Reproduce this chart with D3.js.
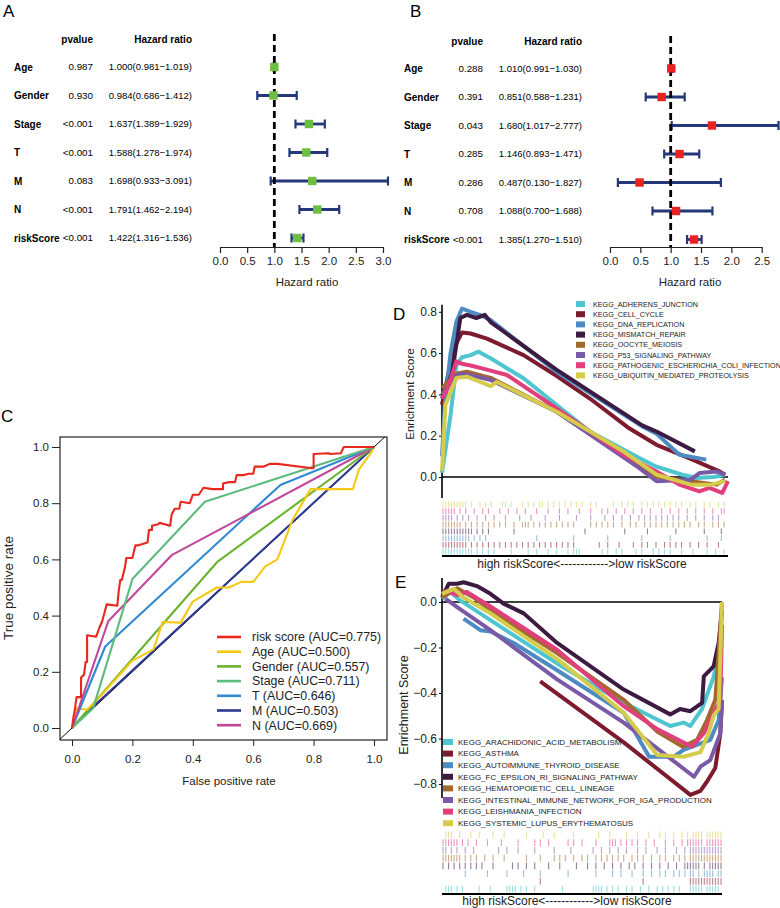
<!DOCTYPE html>
<html><head><meta charset="utf-8">
<script src="https://cdn.jsdelivr.net/npm/d3@7"></script>
<style>body{margin:0;background:#fff}svg{display:block;font-family:"Liberation Sans",Arial,sans-serif}</style>
</head><body><svg id="c" width="780" height="908"></svg>
<script>
// ---------------- DATA ----------------
const forestVars = ["Age","Gender","Stage","T","M","N","riskScore"];
const aP   = ["0.987","0.930","<0.001","<0.001","0.083","<0.001","<0.001"];
const aHR  = [1.000,0.984,1.637,1.588,1.698,1.791,1.422];
const aLo  = [0.981,0.686,1.389,1.278,0.933,1.462,1.316];
const aHi  = [1.019,1.412,1.929,1.974,3.091,2.194,1.536];
const bP   = ["0.288","0.391","0.043","0.285","0.286","0.708","<0.001"];
const bHR  = [1.010,0.851,1.680,1.146,0.487,1.088,1.385];
const bLo  = [0.991,0.588,1.017,0.893,0.130,0.700,1.270];
const bHi  = [1.030,1.231,2.777,1.471,1.827,1.688,1.510];
const aTicks = [0,0.5,1,1.5,2,2.5,3];
const bTicks = [0,0.5,1,1.5,2,2.5];

const rocNames = ["risk score","Age","Gender","Stage","T","M","N"];
const rocAUC   = ["0.775","0.500","0.557","0.711","0.646","0.503","0.669"];
const rocColors = ["#e8281e","#f5c816","#6ab42d","#5dbb7e","#2f8ad3","#2b3990","#c0479a"];
const rocRisk = [[0,0],[0.005,0.04],[0.01,0.07],[0.015,0.11],[0.03,0.11],[0.03,0.18],[0.04,0.19],[0.045,0.235],[0.05,0.235],[0.05,0.33],[0.08,0.325],[0.09,0.355],[0.1,0.38],[0.11,0.42],[0.115,0.44],[0.15,0.435],[0.155,0.49],[0.16,0.527],[0.165,0.527],[0.175,0.57],[0.18,0.605],[0.2,0.605],[0.21,0.65],[0.22,0.65],[0.25,0.66],[0.255,0.705],[0.265,0.705],[0.265,0.72],[0.285,0.725],[0.29,0.73],[0.325,0.72],[0.33,0.76],[0.34,0.78],[0.355,0.78],[0.36,0.805],[0.39,0.8],[0.4,0.83],[0.42,0.83],[0.435,0.855],[0.465,0.85],[0.5,0.85],[0.5,0.87],[0.52,0.875],[0.54,0.875],[0.545,0.9],[0.57,0.9],[0.585,0.905],[0.6,0.905],[0.605,0.93],[0.635,0.93],[0.645,0.935],[0.655,0.94],[0.68,0.94],[0.79,0.925],[0.8,0.925],[0.8,0.975],[0.85,0.978],[0.855,0.975],[0.89,0.978],[0.9,1],[0.94,1],[1,1]];
const rocAge = [[0,0],[0.015,0.07],[0.05,0.065],[0.1,0.12],[0.2,0.24],[0.27,0.28],[0.3,0.377],[0.36,0.375],[0.4,0.45],[0.44,0.475],[0.48,0.5],[0.52,0.5],[0.56,0.52],[0.6,0.52],[0.64,0.575],[0.68,0.6],[0.73,0.74],[0.79,0.85],[0.93,0.85],[0.95,0.92],[0.97,0.95],[0.99,0.98],[1,1]];
const rocGender = [[0,0],[0.48,0.59],[1,1]];
const rocStage = [[0,0],[0.07,0.07],[0.2,0.53],[0.44,0.805],[1,1]];
const rocT = [[0,0],[0.11,0.29],[0.69,0.865],[1,1]];
const rocM = [[0,0],[0.06,0.066],[1,1]];
const rocN = [[0,0],[0.12,0.38],[0.33,0.615],[1,1]];
const rocTicks = [0,0.2,0.4,0.6,0.8,1.0];

const dNames = ["KEGG_ADHERENS_JUNCTION","KEGG_CELL_CYCLE","KEGG_DNA_REPLICATION","KEGG_MISMATCH_REPAIR","KEGG_OOCYTE_MEIOSIS","KEGG_P53_SIGNALING_PATHWAY","KEGG_PATHOGENIC_ESCHERICHIA_COLI_INFECTION","KEGG_UBIQUITIN_MEDIATED_PROTEOLYSIS"];
const eNames = ["KEGG_ARACHIDONIC_ACID_METABOLISM","KEGG_ASTHMA","KEGG_AUTOIMMUNE_THYROID_DISEASE","KEGG_FC_EPSILON_RI_SIGNALING_PATHWAY","KEGG_HEMATOPOIETIC_CELL_LINEAGE","KEGG_INTESTINAL_IMMUNE_NETWORK_FOR_IGA_PRODUCTION","KEGG_LEISHMANIA_INFECTION","KEGG_SYSTEMIC_LUPUS_ERYTHEMATOSUS"];
const gseaColors = ["#4ec5cf","#7d1b2e","#4d8bc3","#3d1a42","#a3682e","#7a5aa6","#e03f7c","#d5cc4b"];
const dTicks = [0,0.2,0.4,0.6,0.8];
const eTicks = [0,-0.2,-0.4,-0.6,-0.8];

const dAdherens = [[0,0.02],[0.03,0.30],[0.05,0.54],[0.07,0.58],[0.1,0.59],[0.128,0.607],[0.17,0.575],[0.285,0.478],[0.4,0.35],[0.517,0.22],[0.69,0.092],[0.75,0.05],[0.84,0.011],[0.89,-0.005],[0.95,0.0],[0.99,0.011]];
const dCellCycle = [[0,0.35],[0.04,0.62],[0.07,0.70],[0.1,0.695],[0.157,0.67],[0.285,0.59],[0.4,0.49],[0.517,0.38],[0.65,0.24],[0.75,0.156],[0.866,0.09],[0.97,0.027],[0.99,0.011]];
const dDNA = [[0,0.1],[0.01,0.35],[0.03,0.6],[0.05,0.75],[0.07,0.816],[0.1,0.8],[0.134,0.784],[0.17,0.76],[0.4,0.51],[0.7,0.245],[0.75,0.21],[0.83,0.108],[0.924,0.084]];
const dMismatch = [[0,0.38],[0.035,0.5],[0.064,0.77],[0.087,0.785],[0.12,0.77],[0.15,0.785],[0.17,0.75],[0.4,0.52],[0.7,0.25],[0.75,0.22],[0.884,0.124]];
const dOocyte = [[0,0.43],[0.05,0.50],[0.087,0.51],[0.17,0.48],[0.4,0.317],[0.69,0.05],[0.75,0.0],[0.87,-0.02],[0.96,-0.037],[0.99,-0.013]];
const dP53 = [[0,0.4],[0.05,0.49],[0.07,0.50],[0.11,0.49],[0.17,0.47],[0.4,0.317],[0.69,0.043],[0.75,-0.02],[0.87,-0.013],[0.9,0.019],[0.96,0.027],[0.99,0.01]];
const dPathogenic = [[0,0.38],[0.02,0.43],[0.05,0.56],[0.065,0.55],[0.1,0.54],[0.157,0.52],[0.227,0.494],[0.4,0.333],[0.634,0.108],[0.75,0.027],[0.83,-0.037],[0.9,-0.07],[0.935,-0.053],[0.98,-0.077],[1,-0.02]];
const dUbiquitin = [[0,0.03],[0.012,0.35],[0.05,0.48],[0.087,0.486],[0.134,0.46],[0.17,0.44],[0.192,0.46],[0.4,0.317],[0.634,0.124],[0.75,0.011],[0.87,-0.037],[0.94,-0.037],[0.99,-0.02]];

const eArach = [[0,0.015],[0.03,0.044],[0.065,0.007],[0.173,-0.08],[0.411,-0.27],[0.649,-0.443],[0.815,-0.545],[0.863,-0.53],[0.887,-0.545],[0.929,-0.47],[0.946,-0.41],[0.97,-0.33],[0.994,-0.18],[1.0,-0.036]];
const eAsthma = [[0.351,-0.349],[0.649,-0.617],[0.887,-0.848],[0.923,-0.83],[0.946,-0.79],[0.976,-0.73],[0.994,-0.577],[1.0,-0.43]];
const eAuto = [[0.077,-0.073],[0.137,-0.124],[0.173,-0.13],[0.256,-0.18],[0.411,-0.30],[0.649,-0.487],[0.74,-0.68],[0.827,-0.68],[0.863,-0.65],[0.958,-0.606],[0.988,-0.52],[1.0,-0.33]];
const eFC = [[0,0.02],[0.024,0.08],[0.054,0.08],[0.077,0.087],[0.125,0.07],[0.173,0.036],[0.22,-0.007],[0.292,-0.05],[0.411,-0.18],[0.649,-0.385],[0.815,-0.494],[0.85,-0.47],[0.887,-0.48],[0.929,-0.443],[0.935,-0.327],[0.97,-0.283],[0.988,-0.18],[1.0,-0.036]];
const eHemato = [[0,0.02],[0.054,0.06],[0.113,0.02],[0.173,-0.036],[0.411,-0.225],[0.649,-0.43],[0.77,-0.57],[0.86,-0.636],[0.911,-0.606],[0.946,-0.52],[0.976,-0.43],[0.982,-0.33],[0.994,-0.11],[1.0,0]];
const eIntest = [[0.012,0.015],[0.054,-0.022],[0.173,-0.124],[0.411,-0.34],[0.649,-0.53],[0.9,-0.768],[0.923,-0.724],[0.958,-0.695],[0.994,-0.577],[1.0,-0.43]];
const eLeish = [[0,0.036],[0.018,0.05],[0.054,0.03],[0.089,0.044],[0.173,-0.02],[0.411,-0.21],[0.649,-0.458],[0.77,-0.56],[0.893,-0.636],[0.935,-0.577],[0.964,-0.504],[0.994,-0.43],[1.0,-0.1]];
const eSLE = [[0,0.036],[0.042,0.058],[0.077,0.02],[0.173,-0.05],[0.411,-0.25],[0.649,-0.487],[0.768,-0.672],[0.863,-0.68],[0.923,-0.66],[0.952,-0.577],[0.97,-0.5],[0.988,-0.47],[1.0,0]];

// rug hit positions (percent of ranked list), legend order
const dRug = [
 [0,1,2,3,4,5,6,7,8,9,10,12,14,16,18,24,30,33,37,40,44,46,47,48,56,58,61,63,68,70,74,76,78,80,84,88,93,96,99],
 [0,1,2,3,4,5,6,7,8,10,12,14,16,18,20,22,24,26,28,30,32,34,36,38,40,42,44,46,55,58,62,67,70,72,75,78,80,82,84,87,90,93,97],
 [0,1,2,3,4,5,6,7,8,9,11,13,15,33,46,58,70,80,93,98],
 [0,1,2,3,4,5,6,7,8,9,10,12,14,16,25,50,64,72,82,92,98],
 [0,1,2,3,4,5,6,8,10,12,14,16,18,20,22,25,28,29,30,32,34,36,38,40,42,44,46,52,54,56,58,60,63,66,68,71,73,75,77,79,81,83,85,87,90,92,95,97,99],
 [0,1,2,3,5,7,9,12,15,18,22,27,31,36,41,47,52,57,60,63,66,69,71,73,75,77,79,81,83,86,89,92,95,97],
 [0,1,2,3,4,6,8,11,14,16,20,23,26,29,33,37,41,44,48,52,56,58,61,64,67,70,73,77,80,83,86,89,92,95,98,99],
 [0,1,2,3,4,5,6,7,8,10,13,15,17,21,22,24,28,30,32,34,35,37,39,41,43,45,47,49,52,54,60,63,65,67,70,72,74,76,78,80,82,84,87,89,92,94,97,99]
];
const eRug = [
 [1,2,3,5,7,13,17,23,24,25,26,28,30,33,43,54,55,56,57,59,61,63,66,68,71,74,77,79,81,83,85,89,90,91,92,93,95,96,97,98,99],
 [35,72,89,90,91,92,93,94,95,96,97,98,99,100],
 [8,16,23,29,35,45,55,61,64,68,72,75,78,80,83,85,87,89,90,92,94,95,96,97,99,100],
 [0,2,4,6,8,10,12,14,18,25,27,30,33,38,42,48,52,55,58,61,64,67,69,72,75,78,81,84,87,88,89,90,91,92,94,96,97,98,99,100],
 [0,1,2,3,4,5,6,8,10,12,15,18,22,30,35,40,42,44,47,50,52,55,57,59,61,63,65,68,70,72,75,78,80,83,85,87,89,90,91,92,93,94,95,96,97,98,99,100],
 [0,1,3,5,8,11,20,23,27,33,40,46,54,57,60,63,66,70,73,77,80,84,87,89,90,91,92,93,94,95,96,97,98,99,100],
 [0,1,2,3,4,5,7,9,12,16,21,27,33,35,38,45,47,50,55,60,61,62,64,66,68,70,73,76,80,83,86,88,89,90,91,92,93,95,96,97,98,99,100],
 [1,2,3,6,10,13,18,22,30,36,40,47,56,60,66,70,74,78,80,83,86,88,90,91,92,93,95,96,97,98,99,100]
];

// ---------------- DRAW ----------------
const svg = d3.select("#c");
svg.append("rect").attr("width",780).attr("height",908).attr("fill","#fff");

function letter(t,x,y){ svg.append("text").attr("x",x).attr("y",y).attr("font-size",17).text(t); }
letter("A",3,17); letter("B",410,17); letter("C",1,422); letter("D",393,320); letter("E",395,588);

function forest(o){
  const g = svg.append("g");
  const x = d3.scaleLinear().domain(o.domain).range(o.range);
  const yr = i => o.y0 + i*o.step;
  g.append("text").attr("x",o.pX).attr("y",o.headY).attr("dy","0.35em").attr("text-anchor","end")
    .attr("font-weight","bold").attr("font-size",10).text("pvalue");
  g.append("text").attr("x",o.hrX).attr("y",o.headY).attr("dy","0.35em").attr("text-anchor","end")
    .attr("font-weight","bold").attr("font-size",10).text("Hazard ratio");
  g.selectAll(".lab").data(forestVars).join("text").attr("x",o.labX).attr("y",(d,i)=>yr(i)).attr("dy","0.35em")
    .attr("font-weight","bold").attr("font-size",10).text(d=>d);
  g.selectAll(".pv").data(o.p).join("text").attr("x",o.pX).attr("y",(d,i)=>yr(i)).attr("dy","0.35em")
    .attr("text-anchor","end").attr("font-size",9.8).text(d=>d);
  g.selectAll(".hr").data(o.hr).join("text").attr("x",o.hrX).attr("y",(d,i)=>yr(i)).attr("dy","0.35em")
    .attr("text-anchor","end").attr("font-size",9.5)
    .text((d,i)=>d.toFixed(3)+"("+o.lo[i].toFixed(3)+"\u2212"+o.hi[i].toFixed(3)+")");
  const col = "#243778";
  o.hr.forEach((d,i)=>{
    const y = yr(i), x1 = x(o.lo[i]), x2 = x(o.hi[i]);
    g.append("line").attr("x1",x1).attr("x2",x2).attr("y1",y).attr("y2",y).attr("stroke",col).attr("stroke-width",2.8);
    [x1,x2].forEach(xx=>g.append("line").attr("x1",xx).attr("x2",xx).attr("y1",y-4.5).attr("y2",y+4.5).attr("stroke",col).attr("stroke-width",2.2));
  });
  g.append("line").attr("x1",x(1)).attr("x2",x(1)).attr("y1",o.headY-5).attr("y2",o.axisY)
    .attr("stroke","#000").attr("stroke-width",2.8).attr("stroke-dasharray","7,4");
  g.selectAll(".sq").data(o.hr).join("rect").attr("x",d=>x(d)-4.2).attr("y",(d,i)=>yr(i)-4.2)
    .attr("width",8.4).attr("height",8.4).attr("fill",o.mark);
  const ax = g.append("g").attr("transform",`translate(0,${o.axisY})`)
    .call(d3.axisBottom(x).tickValues(o.ticks).tickFormat(d3.format(".1f")).tickSize(6).tickSizeOuter(0).tickPadding(4));
  ax.selectAll("text").attr("font-size",11.5).attr("font-family","Liberation Sans, Arial, sans-serif").attr("fill","#222");
  ax.selectAll("line,path").attr("stroke","#222").attr("stroke-width",1.2);
  g.append("text").attr("x",o.axLabX).attr("y",286).attr("text-anchor","middle").attr("font-size",11.5).attr("fill","#222").text("Hazard ratio");
}
forest({domain:[0,3],range:[220,383],y0:67,step:28.5,headY:39,labX:14,pX:93,hrX:192,p:aP,hr:aHR,lo:aLo,hi:aHi,mark:"#6fbe44",ticks:aTicks,axisY:247,axLabX:307});
forest({domain:[0,2.5],range:[610,761.7],y0:68.5,step:28.5,headY:41,labX:404,pX:483,hrX:582,p:bP,hr:bHR,lo:bLo,hi:bHi,mark:"#e8231f",ticks:bTicks,axisY:247,axLabX:690});

// ---------------- ROC ----------------
(function(){
  const g = svg.append("g");
  const x = d3.scaleLinear().domain([0,1]).range([72,374]);
  const y = d3.scaleLinear().domain([0,1]).range([728,447]);
  const L=60,R=387,T=437,B=740;
  svg.append("clipPath").attr("id","rocclip").append("rect").attr("x",L).attr("y",T).attr("width",R-L).attr("height",B-T);
  const xa = g.append("g").attr("transform",`translate(0,${B})`).call(d3.axisBottom(x).tickValues(rocTicks).tickFormat(d3.format(".1f")).tickSize(6).tickPadding(9));
  const ya = g.append("g").attr("transform",`translate(${L},0)`).call(d3.axisLeft(y).tickValues(rocTicks).tickFormat(d3.format(".1f")).tickSize(8).tickPadding(3));
  [xa,ya].forEach(a=>{a.select(".domain").remove(); a.selectAll("text").attr("font-size",11.5).attr("font-family","Liberation Sans, Arial, sans-serif").attr("fill","#222"); a.selectAll("line").attr("stroke","#222");});
  const pg = g.append("g").attr("clip-path","url(#rocclip)");
  pg.append("line").attr("x1",x(-0.1)).attr("y1",y(-0.1)).attr("x2",x(1.1)).attr("y2",y(1.1)).attr("stroke","#000").attr("stroke-width",1);
  const line = d3.line().x(d=>x(d[0])).y(d=>y(d[1]));
  const curves = [rocRisk,rocAge,rocGender,rocStage,rocT,rocM,rocN];
  const order = [5,2,1,4,6,3,0];
  order.forEach(k=>pg.append("path").attr("d",line(curves[k])).attr("fill","none").attr("stroke",rocColors[k]).attr("stroke-width",2.1).attr("stroke-linejoin","round"));
  g.append("rect").attr("x",L).attr("y",T).attr("width",R-L).attr("height",B-T).attr("fill","none").attr("stroke","#222").attr("stroke-width",1.2);
  const lg = g.append("g");
  rocNames.forEach((n,i)=>{
    const yy = 637 + i*14.7;
    lg.append("line").attr("x1",217).attr("x2",241).attr("y1",yy).attr("y2",yy).attr("stroke",rocColors[i]).attr("stroke-width",2.6);
    lg.append("text").attr("x",252).attr("y",yy).attr("dy","0.35em").attr("font-size",12.4).attr("fill","#222").text(n+" (AUC="+rocAUC[i]+")");
  });
  g.append("text").attr("x",229).attr("y",785).attr("text-anchor","middle").attr("font-size",11.5).attr("fill","#222").text("False positive rate");
  g.append("text").attr("transform","translate(13,588) rotate(-90)").attr("text-anchor","middle").attr("font-size",13.5).attr("fill","#222").text("True positive rate");
})();

// ---------------- GSEA ----------------
function gsea(o){
  const g = svg.append("g");
  const x = d3.scaleLinear().domain([0,1]).range([o.x0,o.x1]);
  const y = d3.scaleLinear().domain([0,1]).range([o.zeroY,o.zeroY-o.unit]);
  g.append("line").attr("x1",o.x0).attr("x2",o.x0).attr("y1",y(o.axTop)).attr("y2",y(o.axBot)).attr("stroke","#000").attr("stroke-width",1.6);
  const ya = g.append("g").attr("transform",`translate(${o.x0},0)`).call(d3.axisLeft(y).tickValues(o.ticks).tickFormat(d3.format(".1f")).tickSize(3).tickPadding(2));
  ya.select(".domain").remove();
  ya.selectAll("text").attr("font-size",12).attr("font-family","Liberation Sans, Arial, sans-serif").attr("fill","#222");
  ya.selectAll("line").attr("stroke","#000");
  g.append("text").attr("transform",`translate(${o.labX},${o.labY}) rotate(-90)`).attr("text-anchor","middle").attr("font-size",o.labFS).attr("fill","#222").text("Enrichment Score");
  g.append("line").attr("x1",o.x0).attr("x2",o.x1).attr("y1",y(0)).attr("y2",y(0)).attr("stroke","#000").attr("stroke-width",1.5);
  const line = d3.line().x(d=>x(d[0])).y(d=>y(d[1]));
  o.curves.forEach((c,k)=>g.append("path").attr("d",line(c)).attr("fill","none").attr("stroke",gseaColors[k]).attr("stroke-width",4).attr("stroke-linejoin","round"));
  o.names.forEach((n,k)=>{
    const yy = o.legY + k*o.legStep;
    g.append("rect").attr("x",o.legX).attr("y",yy-3).attr("width",o.legW).attr("height",6).attr("fill",gseaColors[k]);
    g.append("text").attr("x",o.legTX).attr("y",yy).attr("dy","0.35em").attr("font-size",o.legFS).attr("fill","#222").text(n);
  });
  const xr = d3.scaleLinear().domain([0,100]).range([o.x0+1,o.x1-1]);
  o.rug.forEach((r,k)=>{
    const top = o.rugTop + (7-k)*o.rugH;
    g.selectAll(null).data(r).join("line").attr("x1",d=>xr(d)).attr("x2",d=>xr(d)).attr("y1",top+0.5).attr("y2",top+o.rugH-0.5)
      .attr("stroke",gseaColors[k]).attr("stroke-opacity",0.55).attr("stroke-width",1.1);
  });
  g.append("line").attr("x1",o.x0).attr("x2",o.x1).attr("y1",o.rugTop+8*o.rugH+1).attr("y2",o.rugTop+8*o.rugH+1).attr("stroke","#000").attr("stroke-width",1.8);
  g.append("text").attr("x",o.capX).attr("y",o.capY).attr("text-anchor","middle").attr("font-size",12).attr("fill","#222").text("high riskScore<------------>low riskScore");
}
gsea({x0:442,x1:728,zeroY:477,unit:206.5,axTop:0.834,axBot:-0.102,ticks:dTicks,labX:414,labY:394,labFS:11.5,
  curves:[dAdherens,dCellCycle,dDNA,dMismatch,dOocyte,dP53,dPathogenic,dUbiquitin],names:dNames,
  legX:576,legW:9,legTX:593,legY:304,legStep:10.2,legFS:7.2,rug:dRug,rugTop:501,rugH:6.75,capX:582,capY:568});
gsea({x0:442,x1:722,zeroY:602,unit:227.5,axTop:0.105,axBot:-0.862,ticks:eTicks,labX:408,labY:705,labFS:12.5,
  curves:[eArach,eAsthma,eAuto,eFC,eHemato,eIntest,eLeish,eSLE],names:eNames,
  legX:443,legW:10,legTX:458,legY:742,legStep:11.6,legFS:8,rug:eRug,rugTop:831,rugH:7.75,capX:567,capY:905});
</script></body></html>
